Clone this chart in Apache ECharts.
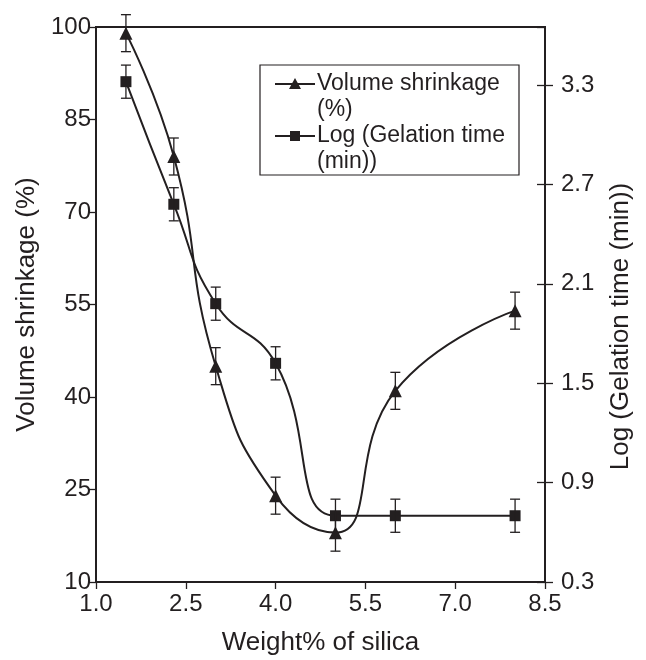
<!DOCTYPE html>
<html>
<head>
<meta charset="utf-8">
<script src="https://cdn.jsdelivr.net/npm/echarts@6/dist/echarts.min.js"></script>
<style>html,body{margin:0;padding:0;background:#fff}#c{width:646px;height:660px}</style>
</head>
<body>
<div id="c"></div>
<script>
const silica = [1.5, 2.3, 3.0, 4.0, 5.0, 6.0, 8.0];
const shrinkage = [99, 79, 45, 24, 18, 41, 54];
const shrinkageErr = [3, 3, 3, 3, 3, 3, 3];
const logGelation = [3.32, 2.58, 1.98, 1.62, 0.70, 0.70, 0.70];
const logGelationErr = [0.1, 0.1, 0.1, 0.1, 0.1, 0.1, 0.1];
const seriesNames = ['Volume shrinkage (%)', 'Log (Gelation time (min))'];

const INK = '#231f20';
const FONT = 'Liberation Sans';

const chart = echarts.init(document.getElementById('c'), null, {renderer: 'canvas'});

function pairs(xs, ys) { return xs.map((x, i) => [x, ys[i]]); }
function errData(xs, ys, es) { return xs.map((x, i) => [x, ys[i] - es[i], ys[i] + es[i]]); }

function errRender(params, api) {
  const x = api.value(0);
  const lo = api.coord([x, api.value(1)]);
  const hi = api.coord([x, api.value(2)]);
  const cap = 5;
  const st = {stroke: INK, lineWidth: 1.3};
  return {
    type: 'group',
    children: [
      {type: 'line', shape: {x1: lo[0], y1: lo[1], x2: hi[0], y2: hi[1]}, style: st},
      {type: 'line', shape: {x1: lo[0] - cap, y1: lo[1], x2: lo[0] + cap, y2: lo[1]}, style: st},
      {type: 'line', shape: {x1: hi[0] - cap, y1: hi[1], x2: hi[0] + cap, y2: hi[1]}, style: st}
    ]
  };
}

const L = {x: 260, y: 65, w: 259, h: 110};

chart.setOption({
  animation: false,
  backgroundColor: '#fff',
  textStyle: {fontFamily: FONT},
  grid: {left: 96, right: 101, top: 27, bottom: 78, containLabel: false, outerBoundsMode: 'none',
         show: true, borderColor: INK, borderWidth: 2, backgroundColor: 'transparent'},
  xAxis: {
    type: 'value', min: 1.0, max: 8.5, interval: 1.5,
    name: 'Weight% of silica', nameLocation: 'middle', nameGap: 48,
    nameTextStyle: {fontSize: 26, color: INK, fontFamily: FONT},
    axisLine: {show: true, lineStyle: {color: INK, width: 2}},
    axisTick: {show: true, inside: false, length: 7, lineStyle: {color: INK, width: 1.3}},
    axisLabel: {fontSize: 24, color: INK, margin: 10, formatter: v => v.toFixed(1), fontFamily: FONT},
    splitLine: {show: false}
  },
  yAxis: [
    {
      type: 'value', min: 10, max: 100, interval: 15, position: 'left',
      name: 'Volume shrinkage (%)', nameLocation: 'middle', nameGap: 54, nameRotate: 90,
      nameTextStyle: {fontSize: 26, color: INK, fontFamily: FONT},
      axisLine: {show: true, lineStyle: {color: INK, width: 2}},
      axisTick: {show: true, inside: false, length: 7, lineStyle: {color: INK, width: 1.3}},
      axisLabel: {fontSize: 24, color: INK, margin: 5, fontFamily: FONT},
      splitLine: {show: false}
    },
    {
      type: 'value', min: 0.3, max: 3.65, interval: 0.6, position: 'right',
      name: 'Log (Gelation time (min))', nameLocation: 'middle', nameGap: 63, nameRotate: 90,
      nameTextStyle: {fontSize: 26, color: INK, fontFamily: FONT, padding: [0, 44, 0, 0]},
      axisLine: {show: true, lineStyle: {color: INK, width: 2}},
      axisTick: {show: true, inside: false, length: 8, lineStyle: {color: INK, width: 1.3}},
      axisLabel: {fontSize: 24, color: INK, margin: 16, showMaxLabel: false, formatter: v => v.toFixed(1), fontFamily: FONT},
      splitLine: {show: false}
    },
    {
      type: 'value', min: 0.3, max: 3.65, interval: 0.6, position: 'right',
      axisLine: {show: false},
      axisTick: {show: true, inside: true, length: 8, lineStyle: {color: INK, width: 1.3}},
      axisLabel: {show: false},
      splitLine: {show: false}
    }
  ],
  graphic: [
    {type: 'rect', shape: {x: L.x, y: L.y, width: L.w, height: L.h}, style: {fill: '#fff', stroke: INK, lineWidth: 1.2}, z: 100},
    {type: 'line', shape: {x1: 275, y1: 84, x2: 315, y2: 84}, style: {stroke: INK, lineWidth: 2}, z: 101},
    {type: 'polygon', shape: {points: [[295, 78], [301, 89], [289, 89]]}, style: {fill: INK}, z: 102},
    {type: 'text', x: 317, y: 71, style: {text: 'Volume shrinkage\n(%)', font: '23px "' + FONT + '"', fill: INK, lineHeight: 26, textVerticalAlign: 'top'}, z: 101},
    {type: 'line', shape: {x1: 275, y1: 136, x2: 315, y2: 136}, style: {stroke: INK, lineWidth: 2}, z: 101},
    {type: 'rect', shape: {x: 290, y: 131, width: 10, height: 10}, style: {fill: INK}, z: 102},
    {type: 'text', x: 317, y: 123, style: {text: 'Log (Gelation time\n(min))', font: '23px "' + FONT + '"', fill: INK, lineHeight: 26, textVerticalAlign: 'top'}, z: 101}
  ],
  series: [
    {
      name: seriesNames[0], type: 'line', yAxisIndex: 0, smooth: 0.5,
      data: pairs(silica, shrinkage),
      symbol: 'triangle', symbolSize: 13,
      lineStyle: {color: INK, width: 2}, itemStyle: {color: INK}, z: 3
    },
    {
      name: seriesNames[1], type: 'line', yAxisIndex: 1, smooth: 0.5,
      data: pairs(silica, logGelation),
      symbol: 'rect', symbolSize: 11,
      lineStyle: {color: INK, width: 2}, itemStyle: {color: INK}, z: 3
    },
    {
      type: 'custom', yAxisIndex: 0, renderItem: errRender,
      data: errData(silica, shrinkage, shrinkageErr), z: 4, silent: true
    },
    {
      type: 'custom', yAxisIndex: 1, renderItem: errRender,
      data: errData(silica, logGelation, logGelationErr), z: 4, silent: true
    }
  ]
});
</script>
</body>
</html>
